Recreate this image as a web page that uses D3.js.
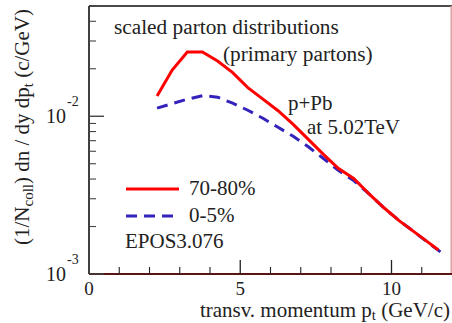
<!DOCTYPE html>
<html>
<head>
<meta charset="utf-8">
<script src="https://cdn.jsdelivr.net/npm/d3@7"></script>
<style>
  html, body { margin: 0; padding: 0; background: #fff; }
  svg { display: block; }
  text { font-family: "Liberation Serif", "Times New Roman", serif; fill: #222; }
</style>
</head>
<body>
<svg id="chart" width="452" height="323"></svg>
<script>
// Transverse momentum bins (GeV/c) and scaled parton yields per centrality class
const ptPeripheral = [2.25, 2.75, 3.25, 3.75, 4.25, 4.75, 5.25, 5.75, 6.25, 6.75, 7.25, 7.75, 8.25, 8.75, 9.25, 9.75, 10.25, 10.75, 11.25, 11.55];
const yieldPeripheral = [0.01346, 0.01963, 0.02556, 0.02556, 0.02241, 0.01892, 0.01520, 0.01283, 0.01084, 0.00889, 0.00714, 0.00573, 0.00466, 0.00403, 0.00323, 0.00263, 0.00218, 0.00185, 0.00157, 0.00142];
const ptCentral = [2.25, 2.75, 3.25, 3.75, 4.25, 4.75, 5.25, 5.75, 6.25, 6.75, 7.25, 7.75, 8.25, 8.75, 9.25, 9.75, 10.25, 10.75, 11.25, 11.8];
const yieldCentral = [0.01125, 0.01202, 0.01283, 0.01351, 0.01321, 0.01210, 0.01092, 0.00971, 0.00851, 0.00746, 0.00640, 0.00540, 0.00453, 0.00391, 0.00323, 0.00263, 0.00218, 0.00185, 0.00156, 0.00130];

const seriesLabels = ["70-80%", "0-5%"];
const xTickLabels = ["0", "5", "10"];
const yTickExponents = ["-3", "-2"];

const svg = d3.select("#chart");
const plotL = 89, plotR = 452, plotT = 6, plotB = 274;

const x = d3.scaleLinear().domain([0, 12]).range([plotL, plotR]);
const y = d3.scaleLog().domain([1e-3, 0.05]).range([plotB, plotT]);

// frame
svg.append("line").attr("x1", plotL).attr("x2", plotR).attr("y1", plotT).attr("y2", plotT)
  .attr("stroke", "#111").attr("stroke-width", 1.6);
svg.append("line").attr("x1", plotR - 0.8).attr("x2", plotR - 0.8).attr("y1", plotT).attr("y2", plotB)
  .attr("stroke", "#e09a9a").attr("stroke-width", 1.4);
svg.append("line").attr("x1", plotL).attr("x2", plotR).attr("y1", plotB).attr("y2", plotB)
  .attr("stroke", "#5a1414").attr("stroke-width", 1.8);
svg.append("line").attr("x1", plotL).attr("x2", plotL).attr("y1", plotT).attr("y2", plotB)
  .attr("stroke", "#111").attr("stroke-width", 1.6);

// x ticks (inward): major every 5, minor every 1
const xMinor = d3.range(1, 12).filter(v => v % 5 !== 0);
svg.append("g").selectAll("line").data(xMinor).join("line")
  .attr("x1", d => x(d)).attr("x2", d => x(d))
  .attr("y1", plotB).attr("y2", plotB - 7)
  .attr("stroke", "#222").attr("stroke-width", 1.1);
svg.append("g").selectAll("line").data([5, 10]).join("line")
  .attr("x1", d => x(d)).attr("x2", d => x(d))
  .attr("y1", plotB).attr("y2", plotB - 14)
  .attr("stroke", "#222").attr("stroke-width", 1.3);

svg.append("g").selectAll("text").data(xTickLabels).join("text")
  .attr("x", d => x(+d)).attr("y", 295)
  .attr("text-anchor", "middle").attr("font-size", 19)
  .text(d => d);

// y ticks (inward): decades long, intermediate short
const yMinor = [];
[1e-3, 1e-2].forEach(dec => d3.range(2, 10).forEach(m => { const v = m * dec; if (v <= 0.05) yMinor.push(v); }));
svg.append("g").selectAll("line").data(yMinor).join("line")
  .attr("x1", plotL).attr("x2", plotL + 7)
  .attr("y1", d => y(d)).attr("y2", d => y(d))
  .attr("stroke", "#444").attr("stroke-width", 1.1);
svg.append("g").selectAll("line").data([1e-3, 1e-2]).join("line")
  .attr("x1", plotL).attr("x2", plotL + 15)
  .attr("y1", d => y(d)).attr("y2", d => y(d))
  .attr("stroke", "#444").attr("stroke-width", 1.4);

const yLab = svg.append("g").selectAll("g").data(yTickExponents).join("g")
  .attr("transform", d => `translate(0,${y(Math.pow(10, +d))})`);
yLab.append("text").attr("x", 46).attr("y", 7).attr("font-size", 20).text("10");
yLab.append("text").attr("x", 67).attr("y", -10).attr("font-size", 14).text(d => d);

// curves
const line = d3.line().x(d => x(d[0])).y(d => y(d[1]));
const peripheral = ptPeripheral.map((p, i) => [p, yieldPeripheral[i]]);
const central = ptCentral.map((p, i) => [p, yieldCentral[i]]);

svg.append("path").datum(central).attr("d", line)
  .attr("fill", "none").attr("stroke", "#3322bb").attr("stroke-width", 3)
  .attr("stroke-dasharray", "11,7");
svg.append("path").datum(peripheral).attr("d", line)
  .attr("fill", "none").attr("stroke", "#ff0000").attr("stroke-width", 3);

// legend
svg.append("line").attr("x1", 126).attr("x2", 179).attr("y1", 189).attr("y2", 189)
  .attr("stroke", "#ff0000").attr("stroke-width", 3);
svg.append("line").attr("x1", 126).attr("x2", 178).attr("y1", 216).attr("y2", 216)
  .attr("stroke", "#3322bb").attr("stroke-width", 3).attr("stroke-dasharray", "11,7");
svg.append("text").attr("x", 189).attr("y", 195).attr("font-size", 21).text(seriesLabels[0]);
svg.append("text").attr("x", 189).attr("y", 222).attr("font-size", 21).text(seriesLabels[1]);
svg.append("text").attr("x", 125).attr("y", 248).attr("font-size", 21).text("EPOS3.076");

// annotations
svg.append("text").attr("x", 114).attr("y", 34).attr("font-size", 21.3).text("scaled parton distributions");
svg.append("text").attr("x", 223).attr("y", 61).attr("font-size", 21.3).text("(primary partons)");
svg.append("text").attr("x", 288).attr("y", 110).attr("font-size", 21).text("p+Pb");
svg.append("text").attr("x", 307).attr("y", 134).attr("font-size", 21).text("at 5.02TeV");

// axis titles
const xt = svg.append("text").attr("x", 450).attr("y", 316.5).attr("font-size", 21).attr("text-anchor", "end");
xt.append("tspan").text("transv. momentum p");
xt.append("tspan").attr("font-size", 15).attr("dy", 3).text("t");
xt.append("tspan").attr("dy", -3).text(" (GeV/c)");

const yt = svg.append("text").attr("transform", "translate(29,127) rotate(-90)")
  .attr("font-size", 21).attr("text-anchor", "middle");
yt.append("tspan").text("(1/N");
yt.append("tspan").attr("font-size", 15).attr("dy", 4).text("coll");
yt.append("tspan").attr("dy", -4).text(") dn / dy dp");
yt.append("tspan").attr("font-size", 15).attr("dy", 4).text("t");
yt.append("tspan").attr("dy", -4).text(" (c/GeV)");
</script>
</body>
</html>
